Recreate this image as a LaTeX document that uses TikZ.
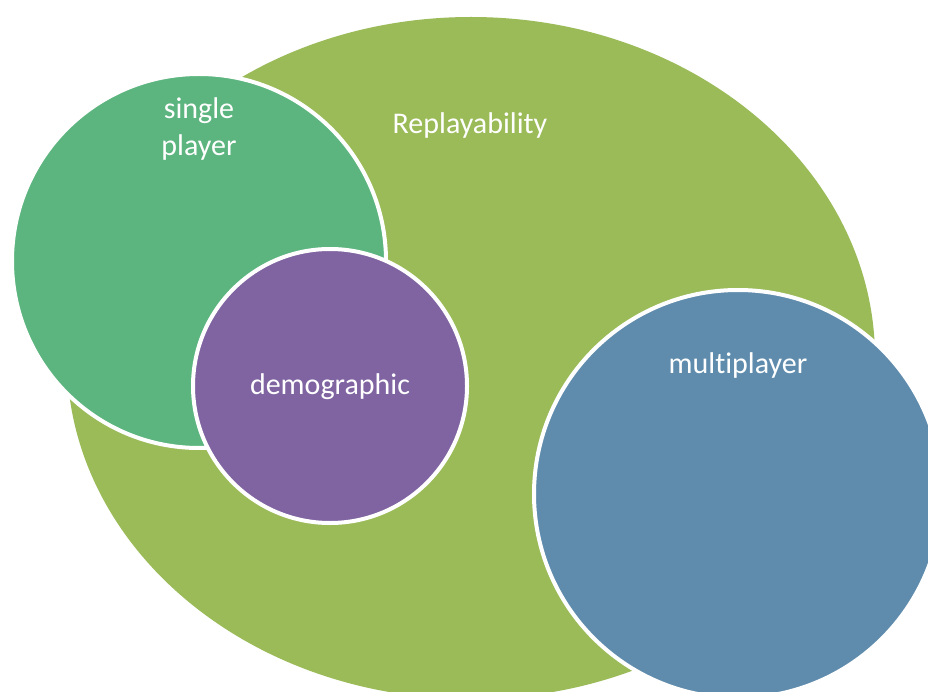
\documentclass[tikz,border=0pt]{standalone}
\usepackage{fontspec}
\setmainfont{Carlito}[Ligatures=NoCommon]
\usetikzlibrary{shapes.geometric}
\definecolor{olivegreen}{HTML}{9BBB59}
\definecolor{singlegreen}{HTML}{5CB47E}
\definecolor{demopurple}{HTML}{8064A2}
\definecolor{multiblue}{HTML}{5F8CAD}
\tikzset{
  venn/.style={circle, inner sep=0pt, draw=white, line width=4pt},
  lbl/.style={text=white, font=\fontsize{30}{37}\selectfont, align=center, inner sep=0pt}
}
\begin{document}
\begin{tikzpicture}[x=1pt,y=-1pt]
\useasboundingbox (0,0) rectangle (928,692);
\clip (0,0) rectangle (928,692);
\fill[white] (0,0) rectangle (928,692);
\node[ellipse, fill=olivegreen, inner sep=0pt, minimum width=808pt, minimum height=682pt] (replay) at (471,358) {};
\node[venn, fill=singlegreen, minimum size=374pt] (single) at (199,261) {};
\node[venn, fill=demopurple, minimum size=274pt] (demo) at (330,386) {};
\node[venn, fill=multiblue, minimum size=408pt] (multi) at (738,494) {};
\node[lbl] (replaytxt) at (470,126) {Replayability};
\node[lbl] (singletxt) at (199,129) {single\\player};
\node[lbl] (demotxt) at (330,387) {demographic};
\node[lbl] (multitxt) at (738,366) {multiplayer};
\end{tikzpicture}
\end{document}
